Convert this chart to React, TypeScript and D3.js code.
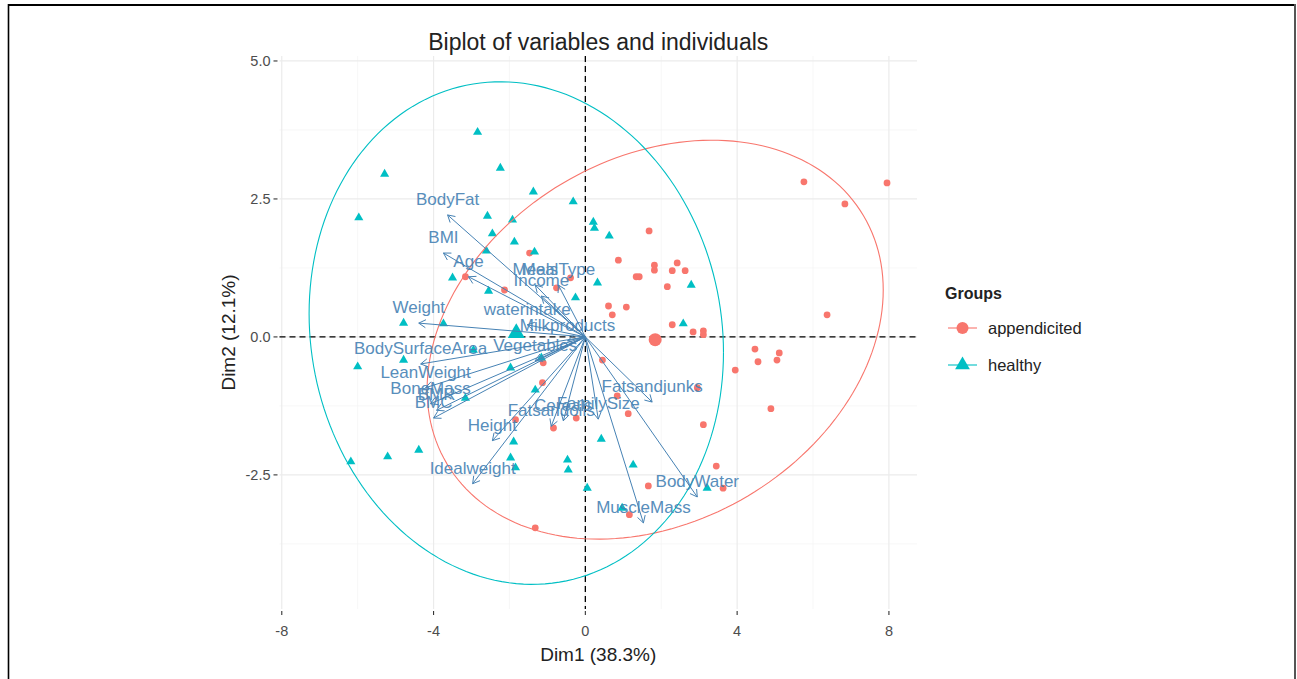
import React from 'react';
import * as d3 from 'd3';

const W = 1297;
const H = 679;

// individuals, coordinates on Dim1 / Dim2
const healthyX = [-2.84, -2.24, -5.29, -1.37, -0.32, -5.97, -2.58, -1.92, -2.45, -1.87, -2.61, -1.34, -3.5, -2.55, -0.26,
  0.21, 0.24, 0.63, 0.32, 2.79, -4.79, -3.74, -6.0, -4.79, -2.95, -1.97, -1.16, -1.32, -3.16, -1.89,
  -4.39, -5.21, -6.18, -1.97, -1.84, -0.47, -0.45, 0.05, 2.58, 0.42, 1.26, 3.21, 0.97];
const healthyY = [3.71, 3.06, 2.95, 2.63, 2.45, 2.16, 2.19, 2.12, 1.87, 1.72, 1.56, 1.54, 1.07, 0.83, 0.71,
  2.08, 1.97, 1.83, 0.98, 0.94, 0.25, 0.24, -0.54, -0.42, -0.24, -0.56, -0.38, -0.96, -1.11, -1.9,
  -2.05, -2.17, -2.26, -2.19, -2.37, -2.23, -2.41, -2.74, 0.24, -1.85, -2.32, -2.74, -3.1];

const appendX = [-1.47, -3.16, -2.13, -0.76, -0.39, 5.76, 7.95, 6.84, 1.68, 0.87, 1.82, 1.82, 2.42, 2.29, 2.63, 1.34,
  1.42, 2.16, 0.61, 1.08, 0.71, 6.37, 2.29, 2.84, 3.11, 3.11, 4.47, 5.11, 4.55, 5.05, 3.95, 0.45,
  2.95, 0.84, 1.13, 4.89, 3.11, 3.45, 1.66, 3.63, 1.16, -1.11, -1.13, -1.84, -0.84, -0.24, -1.32];
const appendY = [1.52, 1.09, 0.85, 0.89, 1.07, 2.81, 2.79, 2.41, 1.92, 1.39, 1.3, 1.21, 1.34, 1.2, 1.2, 1.09,
  1.09, 0.91, 0.56, 0.54, 0.4, 0.4, 0.22, 0.09, 0.11, 0.04, -0.22, -0.29, -0.45, -0.42, -0.6, -0.42,
  -0.92, -1.07, -1.39, -1.3, -1.59, -2.34, -2.7, -2.74, -3.22, -0.47, -0.83, -1.5, -1.65, -1.47, -3.46];

// variables (arrow tips)
const varNames = ['BodyFat', 'BMI', 'Age', 'Weight', 'BodySurfaceArea', 'LeanWeight', 'BoneMass', 'BMR', 'BMC',
  'Height', 'Idealweight', 'waterintake', 'Milkproducts', 'Vegetables', 'Meals', 'MealType', 'Income',
  'Fatsandjunks', 'FamilySize', 'Cereals', 'Fatsandoils', 'BodyWater', 'MuscleMass'];
const varX = [-3.63, -3.74, -3.08, -4.39, -4.34, -4.21, -4.08, -3.92, -4.0,
  -2.45, -2.97, -1.53, -0.47, -1.32, -1.32, -0.71, -1.16,
  1.76, 0.34, -0.58, -0.9, 2.95, 1.53];
const varY = [2.21, 1.52, 1.09, 0.25, -0.49, -0.92, -1.21, -1.33, -1.47,
  -1.88, -2.66, 0.22, -0.07, -0.43, 0.94, 0.94, 0.74,
  -1.18, -1.49, -1.52, -1.62, -2.9, -3.37];

const groupNames = ['appendicited', 'healthy'];
const groupColors = ['#F8766D', '#00BFC4'];
const groupMeanX = [1.84, -1.82];
const groupMeanY = [-0.05, 0.07];
// ellipse shape (lower triangular factor of the scaled covariance)
const ellA11 = [6.01, 5.46];
const ellA21 = [0.9, -0.35];
const ellA22 = [3.5, 4.54];

const xTicks = [-8, -4, 0, 4, 8];
const xMinor = [-6, -2, 2, 6];
const yTicks = [-2.5, 0, 2.5, 5];
const yMinor = [-3.75, -1.25, 1.25, 3.75];

const FONT = 'Liberation Sans, Arial, sans-serif';
const VAR_COL = 'steelblue';

// ggplot prints a plain hyphen for negatives
const fmt = (f: string) => (v: number) => d3.format(f)(v).replace('\u2212', '-');

export default function App() {
  const x = d3.scaleLinear().domain([-8.06, 8.74]).range([279.5, 917]);
  const y = d3.scaleLinear().domain([-4.93, 5.09]).range([609, 56]);
  const [xl, xr] = x.range();
  const [yb, yt] = y.range();

  const tri = d3.symbol().type(d3.symbolTriangle).size(36)();
  const triBig = d3.symbol().type(d3.symbolTriangle).size(125)();
  const triLeg = d3.symbol().type(d3.symbolTriangle).size(95)();

  const angles = d3.range(0, 362, 2).map((a) => (a * Math.PI) / 180);
  const ellipse = (i: number) =>
    d3.line()(
      angles.map((a) => [
        x(groupMeanX[i] + ellA11[i] * Math.cos(a)),
        y(groupMeanY[i] + ellA21[i] * Math.cos(a) + ellA22[i] * Math.sin(a)),
      ] as [number, number])
    ) as string;

  const ox = x(0);
  const oy = y(0);
  const head = (tx: number, ty: number) => {
    const ang = Math.atan2(ty - oy, tx - ox);
    const L = 8;
    const p1 = [tx - L * Math.cos(ang - Math.PI / 6), ty - L * Math.sin(ang - Math.PI / 6)];
    const p2 = [tx - L * Math.cos(ang + Math.PI / 6), ty - L * Math.sin(ang + Math.PI / 6)];
    return `M${p1[0]},${p1[1]}L${tx},${ty}L${p2[0]},${p2[1]}`;
  };

  return (
    <svg width={W} height={H} style={{ position: 'absolute', left: 0, top: 0, background: '#fff' }} fontFamily={FONT}>
      {/* outer frame */}
      <line x1={8} x2={1296} y1={5} y2={5} stroke="#000" strokeWidth={2} />
      <line x1={8.5} x2={8.5} y1={4} y2={H} stroke="#000" strokeWidth={1.6} />
      <line x1={1295} x2={1295} y1={4} y2={H} stroke="#555" strokeWidth={2} />

      {/* grid */}
      <g>
        {xMinor.map((v) => <line key={'xm' + v} x1={x(v)} x2={x(v)} y1={yt} y2={yb} stroke="#f4f4f4" strokeWidth={0.7} />)}
        {yMinor.map((v) => <line key={'ym' + v} x1={xl} x2={xr} y1={y(v)} y2={y(v)} stroke="#f4f4f4" strokeWidth={0.7} />)}
        {xTicks.map((v) => <line key={'xg' + v} x1={x(v)} x2={x(v)} y1={yt} y2={yb} stroke="#ebebeb" strokeWidth={1.2} />)}
        {yTicks.map((v) => <line key={'yg' + v} x1={xl} x2={xr} y1={y(v)} y2={y(v)} stroke="#ebebeb" strokeWidth={1.2} />)}
      </g>

      {/* reference lines */}
      <line x1={xl} x2={xr} y1={oy} y2={oy} stroke="#000" strokeWidth={1.3} strokeDasharray="6,4" />
      <line x1={ox} x2={ox} y1={yt} y2={yb} stroke="#000" strokeWidth={1.3} strokeDasharray="6,4" />

      {/* individuals */}
      <g fill={groupColors[0]}>
        {appendX.map((v, i) => <circle key={'a' + i} cx={x(v)} cy={y(appendY[i])} r={3.4} />)}
      </g>
      <g fill={groupColors[1]}>
        {healthyX.map((v, i) => <path key={'h' + i} d={tri} transform={`translate(${x(v)},${y(healthyY[i])})`} />)}
      </g>

      {/* concentration ellipses */}
      {groupNames.map((g, i) => (
        <path key={'e' + g} d={ellipse(i)} fill="none" stroke={groupColors[i]} strokeWidth={1.1} />
      ))}

      {/* group means */}
      <circle cx={x(groupMeanX[0])} cy={y(groupMeanY[0])} r={6.5} fill={groupColors[0]} />
      <path d={triBig} transform={`translate(${x(groupMeanX[1])},${y(groupMeanY[1])})`} fill={groupColors[1]} />

      {/* variables */}
      <g stroke={VAR_COL} strokeWidth={1} fill="none">
        {varNames.map((n, i) => {
          const tx = x(varX[i]);
          const ty = y(varY[i]);
          return (
            <g key={'v' + n}>
              <line x1={ox} y1={oy} x2={tx} y2={ty} />
              <path d={head(tx, ty)} />
            </g>
          );
        })}
      </g>
      <g fill={VAR_COL} fontSize={17} textAnchor="middle" opacity={0.9}>
        {varNames.map((n, i) => (
          <text key={'vl' + n} x={x(varX[i])} y={y(varY[i]) - 10}>{n}</text>
        ))}
      </g>

      {/* axes */}
      <g fontSize={14.5} fill="#4d4d4d">
        {xTicks.map((v) => (
          <g key={'xt' + v}>
            <line x1={x(v)} x2={x(v)} y1={yb + 2} y2={yb + 6} stroke="#333" strokeWidth={1.1} />
            <text x={x(v)} y={yb + 27} textAnchor="middle">{fmt('d')(v)}</text>
          </g>
        ))}
        {yTicks.map((v) => (
          <g key={'yt' + v}>
            <line x1={xl - 6} x2={xl - 2} y1={y(v)} y2={y(v)} stroke="#333" strokeWidth={1.1} />
            <text x={xl - 9} y={y(v) + 5} textAnchor="end">{fmt('.1f')(v)}</text>
          </g>
        ))}
      </g>
      <text x={(xl + xr) / 2} y={661} textAnchor="middle" fontSize={19} fill="#222">Dim1 (38.3%)</text>
      <text transform={`translate(235,${(yt + yb) / 2}) rotate(-90)`} textAnchor="middle" fontSize={19} fill="#222">Dim2 (12.1%)</text>
      <text x={(xl + xr) / 2} y={50} textAnchor="middle" fontSize={23} fill="#222">Biplot of variables and individuals</text>

      {/* legend */}
      <text x={945} y={299} fontSize={16} fontWeight="bold" fill="#222">Groups</text>
      {groupNames.map((g, i) => {
        const ly = 328 + i * 37;
        return (
          <g key={'lg' + g}>
            <line x1={948} x2={977} y1={ly} y2={ly} stroke={groupColors[i]} strokeWidth={1.1} />
            {i === 0
              ? <circle cx={962.5} cy={ly} r={6} fill={groupColors[i]} />
              : <path d={triLeg} transform={`translate(962.5,${ly})`} fill={groupColors[i]} />}
            <text x={988} y={ly + 6} fontSize={16.5} fill="#222">{g}</text>
          </g>
        );
      })}
    </svg>
  );
}
